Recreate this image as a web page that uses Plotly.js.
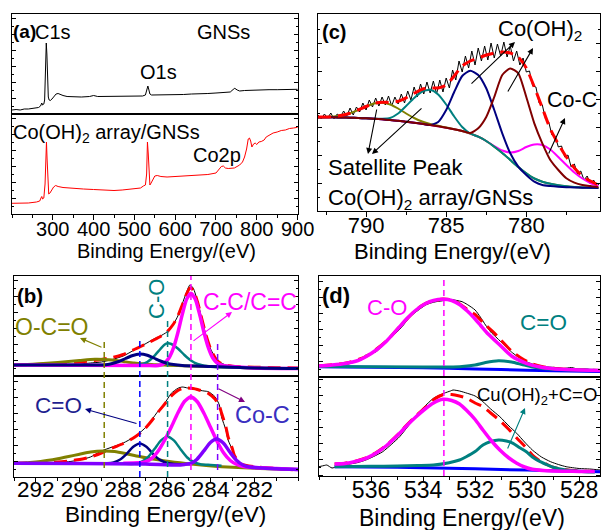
<!DOCTYPE html>
<html><head><meta charset="utf-8">
<script src="https://cdn.plot.ly/plotly-3.0.1.min.js"></script>
<style>html,body{margin:0;padding:0;background:#fff}#chart{width:601px;height:530px}</style>
</head><body><div id="chart"></div>
<script>
// ---------- (a) survey spectra ----------
const surveyGNS_E = [200,210,220,230,240,250,260,265,270,273,275,278,280,282,284,285.5,287,289,291,294,298,303,308,313,318,325,335,350,370,390,400,410,430,450,470,490,510,520,527,531,533,535,538,542,560,580,600,620,640,660,680,700,720,735,742,746,752,758,770,790,810,830,850,870,890,900];
const surveyGNS_I = [4,4.5,4,5,5,5.5,6,6.5,8,11,9,10,14,35,71,60,30,17,14,13.5,15,18,20,20.5,19.5,18.5,17.5,17,17,17.5,18.5,17.5,17.5,17.5,17.5,17.5,17.5,18,19,24,28,25,20,19,19,19,19.5,19.5,20,20,20.5,21,21.5,22,24.5,25.7,24,23,23.5,24,24,24.3,24.3,24.5,24.5,24.7];
const surveyCo_E = [200,220,240,260,268,271,273,275,278,281,283,284.5,286,288,290,293,297,302,307,313,325,350,375,400,425,450,470,490,505,515,522,527,530,532,534,536,538,541,545,550,556,565,580,600,620,640,660,680,700,707,713,718,723,730,745,758,765,770,775,779,782,785,788,792,796,800,805,811,818,823,830,840,850,860,870,880,890,900];
const surveyCo_I = [10.7,10.5,11,12,13,16,17.5,15,16,30,55,72,55,30,20,21,24,27,28.5,27.5,26.5,25.5,25,24.5,24,23.5,24,25,25.5,26,28,29,40,72,60,35,29,31,34,38,38.5,37.5,37,37.5,37.5,38,38.5,39.5,41,44,47.5,48,46,45.5,46,49,52,57,65,75,76,73,67,70,71,69.5,72,72.5,74,77,78.5,81,82,83.5,84,85.5,86,86.7];

// ---------- (c) Co2p ----------
const co2pRaw_E = [793.0,792.8,792.6,792.4,792.2,792.0,791.8,791.6,791.4,791.2,791.0,790.8,790.6,790.4,790.2,790.0,789.8,789.6,789.4,789.2,789.0,788.8,788.6,788.4,788.2,788.0,787.8,787.6,787.4,787.2,787.0,786.8,786.6,786.4,786.2,786.0,785.8,785.6,785.4,785.2,785.0,784.8,784.6,784.4,784.2,784.0,783.8,783.6,783.4,783.2,783.0,782.8,782.6,782.4,782.2,782.0,781.8,781.6,781.4,781.2,781.0,780.8,780.6,780.4,780.2,780.0,779.8,779.6,779.4,779.2,779.0,778.8,778.6,778.4,778.2,778.0,777.8,777.6,777.4,777.2,777.0,776.8,776.6,776.4,776.2,776.0,775.8,775.6,775.4];
const co2pRaw_I = [96,92,97,93,98,92,97,94,100,95,103,96,104,99,108,101,111,104,113,105,114,106,115,105,114,107,117,108,120,111,124,114,127,117,129,118,130,117,131,119,133,123,141,131,150,139,155,143,160,146,163,150,165,151,168,153,167,155,169,154,165,150,160,146,153,139,140,125,124,108,106,92,89,76,75,64,65,54,56,44,47,37,40,31,35,27,31,25,28];
const co2pFit_E = [793,792.5,792,791.5,791,790.5,790,789.5,789,788.5,788,787.5,787,786.5,786,785.5,785,784.5,784,783.5,783,782.5,782,781.5,781,780.5,780,779.5,779,778.5,778,777.5,777,776.5,776,775.5];
const co2pFit = [94,94,94.5,95.8,97.8,101,104.5,107.6,108.8,108.5,109.7,113.2,117.7,121.8,123,123,126,135,145,150,153,156,158,159,158,154,143,124,103,82,67,54,43,35,30,26];
const co2pSat1 = [93.7,93.9,94.5,95.8,97.8,101,104.5,107.5,108.3,106.5,102.5,97.5,93,89.5,87,85.2,83.5,81.8,80,77.5,74.3,70,64.3,58,51,44,37.7,32.5,29.3,27.2,25.7,24.7,24,23.6,23.3,23];
const co2pSat2 = [93.7,93.7,93.7,93.5,93.3,93,92.7,92.3,92.2,93,97.5,105,113,119.5,121.3,116.5,106.5,94.5,84,77.5,74.3,70,64.3,58,51,44,37.7,32.5,29.3,27.2,25.7,24.7,24,23.6,23.3,23];
const co2pCoOH1 = [93.7,93.7,93.7,93.5,93.3,93,92.7,92.2,91.7,91,90.3,89.3,88.3,87.2,86,89,101,119,135,140.3,136,122.7,101,77.7,57.7,44.3,36,29.3,26,25,24.3,23.8,23.5,23.3,23.2,23];
const co2pCoOH2 = [93.7,93.7,93.7,93.5,93.3,93,92.7,92.2,91.7,91,90.3,89.3,88.3,87.2,86,84.7,83.3,81.8,80,78,82.7,94,114,136,142.5,137.7,114,87.7,67.7,51,41,32.7,28.3,26,25,23.7];
const co2pCoC = [93.7,93.7,93.7,93.5,93.3,93,92.7,92.2,91.7,91,90.3,89.3,88.3,87.2,86,84.7,83.3,81.8,80,77.5,74.3,70,65,60.5,58.5,60,64,66.5,66,61.5,54,46,38.5,32.5,28,25];

// ---------- (b) C1s, GNSs (top) ----------
const c1sG_E = [293,292,291,290,289.5,289,288.5,288,287.5,287.2,287,286.6,286.3,286,285.7,285.5,285.3,285.1,284.95,284.8,284.6,284.4,284.2,284,283.8,283.6,283.3,283,282,281,280];
const c1sG_raw = [11,11.3,11.5,12,13,14,16.5,20,26,30,32,37,40,44,52,60,72,84,91,88,75,57,40,27,19,14,11,10,9,8.5,8];
const c1sG_fit = [11,11.5,12.5,14,15,16.5,18.5,21.5,26.5,29.5,31.5,36,39.5,44,52,60,71,82,88,86,74,57,40,27,18.5,13.5,10.8,9.8,8.8,8.3,8];
const c1sG_OCO_E = [293,292,291,290,289.3,288.5,288,287.5,287,286.5,286,285,284,282,280];
const c1sG_OCO = [11,12,13.5,15.5,16.7,16,14.5,13,12,11.2,10.8,10,9.5,8,7.5];
const c1sG_CdO_E = [293,289,288.8,288.5,288.2,287.9,287.6,287.24,286.9,286.6,286.3,286,285.7,285.3,284,282,280];
const c1sG_CdO = [11,11,11.3,12.5,14.5,17.5,20.3,22,20.8,18,15,12.8,11.5,10.5,9.5,8,7.5];
const c1sG_CO_E = [293,287.5,287.2,286.9,286.6,286.3,286.1,285.97,285.8,285.5,285.2,284.9,284.6,284.3,284,282,280];
const c1sG_CO = [11,10.8,11.5,14,19.5,27,31.5,32.7,32,27.5,21,15.5,12,10.3,9.6,8,7.5];
const c1sG_CC_E = [293,287,286.5,286.3,286.1,285.9,285.7,285.5,285.3,285.1,284.9,284.7,284.5,284.3,284.1,283.9,283.7,283.5,283.3,282,280];
const c1sG_CC = [11,10.5,10.3,11,13.2,18.3,28.1,43.3,61.4,76.7,82.7,76.7,61.4,43.3,28.1,18,13,10.8,10,8,7.5];

// ---------- (b) C1s, Co(OH)2 array/GNSs (bottom) ----------
const c1sC_E = [293,292,291,290.5,290,289.5,289,288.5,288,287.5,287.2,287,286.8,286.6,286.4,286.1,285.8,285.5,285.3,285.05,284.8,284.6,284.3,284.1,283.8,283.6,283.5,283.3,283.2,283,282.9,282.6,282,281,280];
const c1sC_raw = [13.7,14,14.5,15.3,17,20,26,30,34,40,45,49,53,60,66,73.7,83.7,88.7,90,89,88,87,86,85.3,80.3,72,60,47,37,27,20,12,10.3,8.5,7];
const c1sC_fit = [13.8,14.2,15,16,17.5,20,24,29,33.5,39.5,44.5,48.5,53.5,59,65,73,81,86.5,88.5,89,88.5,87.5,85.5,83.5,78,71,64,50,40,28,21,13,10.3,8.5,7];
const c1sC_OCO_E = [293,292.5,292,291.5,291,290.5,290,289.5,288.9,288.4,287.9,287.4,286.9,286.4,285.9,285.4,284.9,284.2,283.5,282.5,281,280];
const c1sC_OCO = [13.7,14,15,16.5,18.3,20.5,22.8,25,26,25.5,23.5,21,19,17.2,15.6,14.2,13,11.5,10.3,9.2,8,7.5];
const c1sC_CdO_E = [289.5,289,288.74,288.44,288.14,287.84,287.54,287.24,286.94,286.64,286.34,286.04,285.74,285.3];
const c1sC_CdO = [13.6,13.6,13.7,14.6,17.5,23.2,30.2,33.5,30.2,23.2,17.4,14.4,13.3,12.5];
const c1sC_CO_E = [288.5,288,287.47,287.17,286.87,286.57,286.27,285.97,285.67,285.37,285.07,284.77,284.47,284,283.5];
const c1sC_CO = [13.3,13.2,13.2,15.2,19.9,28,36.6,40.3,36.4,27.6,19.5,14.8,12.8,12,11.2];
const c1sC_CC_E = [288,287.3,287,286.7,286.4,286.1,285.8,285.5,285.2,284.9,284.6,284.3,284,283.7,283.4,283.1,282.8,282.5,282,281,280];
const c1sC_CC = [13.8,14.2,15.2,18.5,26,37,50,64,75.5,80.3,75,63.5,49.5,35.5,24,16.5,12.5,10.5,9.5,8.5,7.5];
const c1sC_CoC_E = [293,290,287,285.5,285.2,284.9,284.62,284.32,284.02,283.72,283.42,283.12,282.82,282.52,282.22,281.5,280];
const c1sC_CoC = [13.7,13.5,13,12,12.6,13.5,17.8,25.8,34.3,38,34,25,16.8,12,10,8.8,7.5];
const c1sPeakPos = [288.87,287.24,285.97,284.9,283.68];

// ---------- (d) O1s ----------
const o1sG_E = [538,537.8,537.6,537.4,537.2,537,536.8,536.6,536.45,536.3,536.2,536.1,536,535.8,535.6,535.4,535.2,535,534.8,534.5,534.2,533.9,533.7,533.5,533.3,533.1,532.9,532.7,532.5,532.3,532,531.8,531.6,531.4,531.2,531,530.8,530.6,530.4,530.2,530,529.8,529.5,529.2,528.9,528.6,528.3,528,527.7,527.4,527.2];
const o1sG_raw = [10.3,10.5,10,11,11.3,12,13.5,15.5,17,19.5,22,21,23,25.3,30,35,40.3,45,50.5,60.3,66.5,72,74,75.3,76,77,77.5,76.5,75.3,72.5,67,60,52,45,40,35,30,25,21,18,15,13,11,10,9.5,8.5,9.5,7.5,8,6.5,6.5];
const o1sG_fit_E = [538,537,536.2,535.4,534.9,534.27,533.9,533.24,532.9,532.6,532.3,532,531.6,531.3,531.05,530.6,530.2,529.8,529.4,529,528.5,528,527.2];
const o1sG_fit = [11.2,13.7,20.5,36.2,50.5,67.2,73.7,77.9,77,73.3,67.5,62.5,52,45,38,26,18.5,13,10.3,8.8,7.8,7.2,6.5];
const o1sG_CO_E = [538,537.5,537,536.5,536.2,535.8,535.4,534.9,534.6,534.27,533.9,533.6,533.24,532.9,532.6,532.3,532.08,531.8,531.5,531.05,530.6,530.03,529.5,529,528.5,528,527.2];
const o1sG_CO = [11,12,13.5,16.5,20.3,27,36,50.3,59,67,73.5,76.5,77.7,76.5,72.5,66,60.3,52,43,32,21,13.7,10,8.3,7.5,7,6.5];
const o1sG_CdO_E = [538,534,533,532.5,532,531.6,531.1,530.6,530.2,529.8,529.4,528.8,528,527.2];
const o1sG_CdO = [10.5,10,10,10.5,12,14.5,16.3,15,12.5,10,8.5,7.5,7,6.5];
const o1sG_bg_E = [538,535,533,531,529,527.2];
const o1sG_bg = [10.3,9.5,8.7,7.5,6.2,5.5];

const o1sC_E = [538,537.8,537.7,537.5,537.3,537.1,536.8,536.5,536.2,535.9,535.55,535.2,534.9,534.6,534.3,534,533.6,533.2,532.95,532.85,532.6,532.3,532,531.7,531.4,531.05,530.7,530.4,530.1,529.8,529.45,529.1,528.8,528.5,528,527.6,527.2];
const o1sC_raw = [8.3,9.5,10,7,8.5,9.5,11,12.5,15,18.5,23.3,31,38.3,48,58.3,67,76.7,81.7,84,85,84,81.7,79,73.3,66,58.3,49,41.7,33,25,18,13.3,10.5,8.3,6.5,6,5];
const o1sC_fit_E = [537.4,537,536.6,536.2,535.8,535.4,534.9,534.6,534.27,533.9,533.6,533.24,532.9,532.6,532.34,532,531.7,531.4,531.05,530.7,530.4,530.03,529.8,529.5,529.2,529,528.5,528,527.4];
const o1sC_fit = [11,11.8,13.8,17,22.5,30,42.3,50.8,59.3,67.8,75.3,80.3,80.5,79,77,72,68.5,62,54.5,45.5,37,27,20,14,10,7.8,5.2,4,3.5];
const o1sC_CO_E = [537.4,537,536.6,536.2,535.8,535.4,534.9,534.6,534.27,533.9,533.6,533.24,532.9,532.6,532.34,532,531.7,531.4,531.05,530.7,530.4,530.1,529.8,529.4,529,528.5,528,527.4];
const o1sC_CO = [11,11.5,13.5,16.7,22,29.5,41.7,50,58.3,66.5,72,75.7,74.5,71,65,55.5,45,35,25,17,11.7,8,5.7,4.5,4,3.8,3.6,3.5];
const o1sC_CdO_E = [537.4,536,535,534.2,533.6,533,532.6,532.34,532,531.7,531.4,531.1,530.8,530.54,530.3,530.03,529.8,529.5,529.2,529,528.5,527.8,527.4];
const o1sC_CdO = [8.3,8.7,9,9.5,10,12.3,15,18.3,23.5,30,33.5,35,34,31.7,27.5,23.3,18,13.3,9.8,7.7,5,3.3,3];
const o1sC_bg_E = [537.4,535,533,531,529,527.2];
const o1sC_bg = [8.3,7.7,6.8,5.5,4.3,3.3];
const o1sPeakPos = 533.2;

// ---------- tick labels ----------
const ticksA = [300,400,500,600,700,800,900];
const ticksB = [282,284,286,288,290,292];
const ticksC = [780,785,790];
const ticksD = [528,530,532,534,536];

// ---------- build ----------
const FONT = 'Liberation Sans, Arial, Helvetica, sans-serif';
const W = 601, H = 530;
const xd = (a,b) => [a/W, b/W];
const yd = (top,bot) => [1-bot/H, 1-top/H];
const px = v => v/W, py = v => 1-v/H;

const RED='#ff0000', OLIVE='#808000', TEAL='#008080', NAVY='#000080', MAROON='#800000', MAG='#ff00ff', VIOLET='#8000ff', BLUE='#0000ff';

function ln(x,y,xa,ya,color,width,opt){
  const o = {x:x,y:y,xaxis:xa,yaxis:ya,type:'scatter',mode:'lines',hoverinfo:'skip',
    line:{color:color,width:width,shape:'spline',smoothing:0.6}};
  if(opt&&opt.dash) o.line.dash = opt.dash;
  if(opt&&opt.linear) o.line.shape='linear';
  return o;
}
const RDASH = '13px,7px';
const traces = [
  // (a)
  ln(surveyGNS_E, surveyGNS_I, 'x','y','#000',1,{linear:true}),
  ln(surveyCo_E, surveyCo_I, 'x2','y2',RED,1,{linear:true}),
  // (c)
  ln(co2pRaw_E, co2pRaw_I, 'x3','y3','#000',1,{linear:true}),
  ln(co2pFit_E, co2pCoC, 'x3','y3',MAG,2),
  ln(co2pFit_E, co2pSat1, 'x3','y3',OLIVE,2),
  ln(co2pFit_E, co2pSat2, 'x3','y3',TEAL,2),
  ln(co2pFit_E, co2pCoOH1, 'x3','y3',NAVY,2),
  ln(co2pFit_E, co2pCoOH2, 'x3','y3',MAROON,2),
  ln(co2pFit_E, co2pFit, 'x3','y3',RED,3,{dash:RDASH}),
  // (b) top
  ln(c1sG_E, c1sG_raw, 'x4','y4','#000',1),
  ln(c1sG_E, c1sG_fit, 'x4','y4',RED,3,{dash:RDASH}),
  ln(c1sG_OCO_E, c1sG_OCO, 'x4','y4',OLIVE,3),
  ln(c1sG_CO_E, c1sG_CO, 'x4','y4',TEAL,2.5),
  ln(c1sG_CC_E, c1sG_CC, 'x4','y4',MAG,3.5),
  ln(c1sG_CdO_E, c1sG_CdO, 'x4','y4',NAVY,3),
  // (b) bottom
  ln(c1sC_E, c1sC_raw, 'x5','y5','#000',1),
  ln(c1sC_E, c1sC_fit, 'x5','y5',RED,3,{dash:RDASH}),
  ln(c1sC_OCO_E, c1sC_OCO, 'x5','y5',OLIVE,3),
  ln(c1sC_CdO_E, c1sC_CdO, 'x5','y5',NAVY,2.5),
  ln(c1sC_CO_E, c1sC_CO, 'x5','y5',TEAL,2.5),
  ln(c1sC_CC_E, c1sC_CC, 'x5','y5',MAG,3.5),
  ln(c1sC_CoC_E, c1sC_CoC, 'x5','y5',VIOLET,3.5),
  // (d) top
  ln(o1sG_E, o1sG_raw, 'x6','y6','#000',1),
  ln(o1sG_fit_E, o1sG_fit, 'x6','y6',RED,3,{dash:RDASH}),
  ln(o1sG_bg_E, o1sG_bg, 'x6','y6',BLUE,3),
  ln(o1sG_CdO_E, o1sG_CdO, 'x6','y6',TEAL,3),
  ln(o1sG_CO_E, o1sG_CO, 'x6','y6',MAG,3.5),
  // (d) bottom
  ln(o1sC_E, o1sC_raw, 'x7','y7','#000',1),
  ln(o1sC_fit_E, o1sC_fit, 'x7','y7',RED,3,{dash:RDASH}),
  ln(o1sC_bg_E, o1sC_bg, 'x7','y7',BLUE,3),
  ln(o1sC_CdO_E, o1sC_CdO, 'x7','y7',TEAL,3),
  ln(o1sC_CO_E, o1sC_CO, 'x7','y7',MAG,3.5)
];

function yax(dom, range, dt, anchor){
  return {domain:dom, range:range, anchor:anchor, showticklabels:false, ticks:'inside', ticklen:4, tickwidth:1, tickcolor:'#000',
    tick0:0, dtick:dt, minor:{ticks:'inside', ticklen:2, tick0:0, dtick:dt/2, tickcolor:'#000'},
    showline:true, linecolor:'#000', linewidth:1, mirror:'ticks', showgrid:false, zeroline:false, fixedrange:true};
}
function xbot(dom, range, tv, mdt, anchor, fs, standoff){
  return {domain:dom, range:range, anchor:anchor, tickmode:'array', tickvals:tv, ticktext:tv.map(String),
    ticks:'outside', ticklen:5, tickwidth:1, tickcolor:'#000',
    minor:{ticks:'outside', ticklen:3, tickmode:'linear', tick0:0, dtick:mdt, tickcolor:'#000'},
    tickfont:{family:FONT,size:fs,color:'#000'}, ticklabelstandoff:standoff,
    showline:true, linecolor:'#000', linewidth:1, mirror:true, showgrid:false, zeroline:false, fixedrange:true};
}
function xtop(dom, range, anchor){
  return {domain:dom, range:range, anchor:anchor, showticklabels:false, ticks:'', showline:true, linecolor:'#000', linewidth:1,
    mirror:true, showgrid:false, zeroline:false, fixedrange:true};
}

const rangeA=[200,901], rangeB=[293,280], rangeC=[793,775.4], rangeD=[538,527.2];
const layout = {
  width:W, height:H, margin:{l:0,r:0,t:0,b:0}, paper_bgcolor:'#fff', plot_bgcolor:'#fff', showlegend:false,
  font:{family:FONT,size:20,color:'#000'},
  xaxis: xtop(xd(12,298), rangeA, 'y'),
  yaxis: yax(yd(14,114), [0,100], 16, 'x'),
  xaxis2: xbot(xd(12,298), rangeA, ticksA, 50, 'y2', 20, -8),
  yaxis2: yax(yd(114,214), [0,100], 16, 'x2'),
  xaxis3: xbot(xd(318,600), rangeC, ticksC, 2.5, 'y3', 22, -10),
  yaxis3: yax(yd(14,211), [0,197], 28, 'x3'),
  xaxis4: xtop(xd(14,298), rangeB, 'y4'),
  yaxis4: yax(yd(276,376), [0,100], 16, 'x4'),
  xaxis5: xbot(xd(14,298), rangeB, ticksB, 1, 'y5', 22.5, -13),
  yaxis5: yax(yd(376,477), [0,101], 16, 'x5'),
  xaxis6: xtop(xd(319,600), rangeD, 'y6'),
  yaxis6: yax(yd(276,377), [0,101], 16, 'x6'),
  xaxis7: xbot(xd(319,600), rangeD, ticksD, 1, 'y7', 23, -12),
  yaxis7: yax(yd(377,476), [-1,98], 16, 'x7'),
  shapes: [],
  annotations: []
};

// dashed peak-position markers
const bDashCol = [OLIVE, BLUE, TEAL, MAG, VIOLET];
const bDashTop = [340, 338, 318, 276, 343];
const bDashBot = [468, 477, 477, 470, 470];
c1sPeakPos.forEach((e,i)=>{
  layout.shapes.push({type:'line', xref:'x5', yref:'paper', x0:e, x1:e, y0:py(bDashBot[i]), y1:py(bDashTop[i]),
    line:{color:bDashCol[i], width:1.5, dash:'6px,4px'}});
});
layout.shapes.push({type:'line', xref:'x7', yref:'paper', x0:o1sPeakPos, x1:o1sPeakPos, y0:py(476), y1:py(276),
  line:{color:MAG, width:1.5, dash:'6px,4px'}});

function txt(t, x, y, opt){
  opt = opt||{};
  const a = {text:t, xref:'paper', yref:'paper', x:px(x), y:py(y), xanchor:opt.xanchor||'left', yanchor:'middle',
    showarrow:false, font:{family:FONT, size:opt.size||20, color:opt.color||'#000'}};
  if(opt.angle!==undefined) a.textangle = opt.angle;
  layout.annotations.push(a);
}
function arrow(hx, hy, tx, ty, color){
  layout.annotations.push({text:'', xref:'paper', yref:'paper', x:px(hx), y:py(hy), ax:tx-hx, ay:ty-hy,
    showarrow:true, arrowhead:2, arrowsize:1.1, arrowwidth:1.1, arrowcolor:color||'#000'});
}
// (a)
txt('<b>(a)</b>', 11, 32, {size:19});
txt('C1s', 33, 32, {size:20});
txt('GNSs', 195, 32);
txt('O1s', 138, 72);
txt('Co(OH)<sub>2</sub> array/GNSs', 11, 133);
txt('Co2p', 191, 155);
txt('Binding Energy/(eV)', 166, 251, {xanchor:'center'});
// (c)
txt('<b>(c)</b>', 320, 32, {size:20});
txt('Co(OH)<sub>2</sub>', 496, 30, {size:22});
txt('Co-C', 545, 100, {size:21.5});
txt('Satellite Peak', 326, 167, {size:22});
txt('Co(OH)<sub>2</sub> array/GNSs', 326, 199, {size:22});
txt('Binding Energy/(eV)', 452, 251, {xanchor:'center', size:22});
arrow(515, 42, 470, 85);
arrow(533, 48, 507, 93);
arrow(565, 118, 548, 155);
arrow(368, 154, 377, 108);
arrow(372, 154, 423, 107);
// (b)
txt('<b>(b)</b>', 15, 295, {size:20.5});
txt('C-O', 156, 299, {xanchor:'center', color:TEAL, size:22, angle:-90});
txt('O-C=O', 13, 327, {color:OLIVE, size:23});
txt('C-C/C=C', 201, 302, {color:MAG, size:23});
txt('C=O', 33, 405, {color:'#1f1f90', size:22.5});
txt('Co-C', 233, 415, {color:'#3a2fc0', size:23.5});
txt('Binding Energy/(eV)', 165, 514, {xanchor:'center', size:22.5});
arrow(80, 338, 103, 348, OLIVE);
arrow(232, 312, 192, 342, MAG);
arrow(85, 409, 138, 424, NAVY);
arrow(245, 402, 217, 388, '#800080');
// (d)
txt('<b>(d)</b>', 320, 295, {size:22});
txt('C-O', 365, 307, {color:MAG, size:22});
txt('C=O', 518, 322, {color:TEAL, size:22.5});
txt('Cu(OH)<sub>2</sub>+C=O', 475, 396, {size:18.5});
txt('Binding Energy/(eV)', 462, 518, {xanchor:'center', size:23});
arrow(525, 408, 507, 450, TEAL);

Plotly.newPlot('chart', traces, layout, {displayModeBar:false, staticPlot:true});
</script></body></html>
